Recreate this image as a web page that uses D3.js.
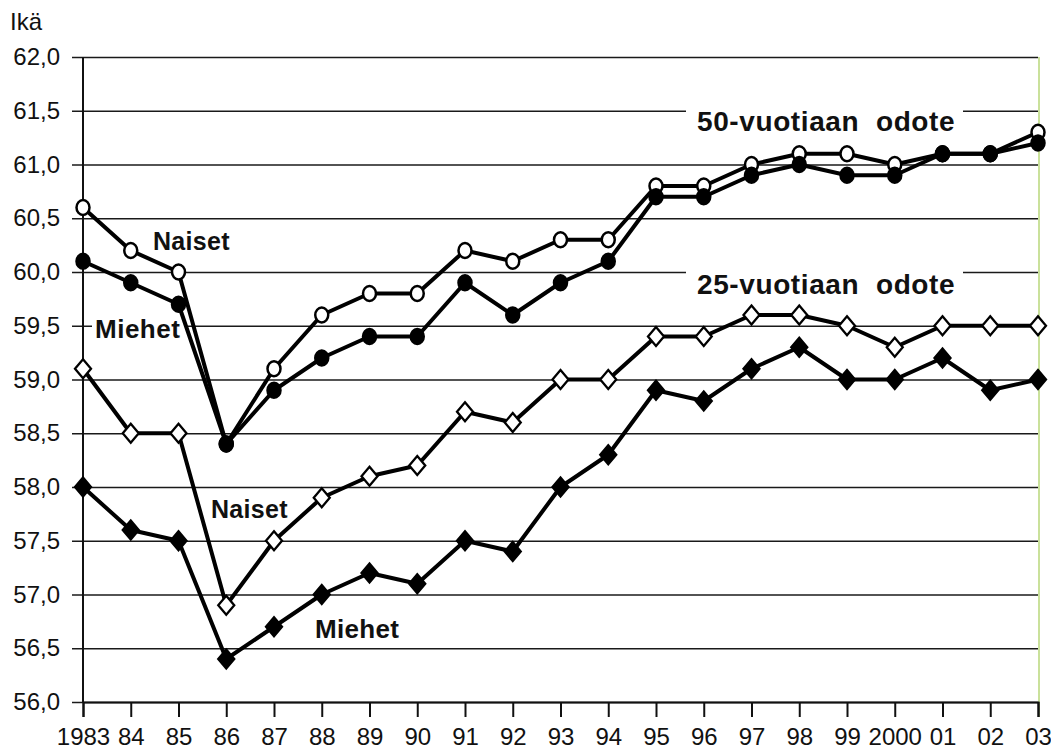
<!DOCTYPE html>
<html>
<head>
<meta charset="utf-8">
<script src="https://cdn.jsdelivr.net/npm/d3@7"></script>
<style>
  body { margin: 0; background: #fff; }
  text { font-family: "Liberation Sans", Arial, sans-serif; fill: #111; }
  .axis text { font-size: 24px; }
  .lbl { font-weight: bold; }
</style>
</head>
<body>
<div id="chart"></div>
<script>
const years = [1983, 1984, 1985, 1986, 1987, 1988, 1989, 1990, 1991, 1992, 1993,
    1994, 1995, 1996, 1997, 1998, 1999, 2000, 2001, 2002, 2003]
const naiset50 = [60.6, 60.2, 60.0, 58.4, 59.1, 59.6, 59.8, 59.8, 60.2, 60.1, 60.3,
    60.3, 60.8, 60.8, 61.0, 61.1, 61.1, 61.0, 61.1, 61.1, 61.3]
const miehet50 = [60.1, 59.9, 59.7, 58.4, 58.9, 59.2, 59.4, 59.4, 59.9, 59.6, 59.9,
    60.1, 60.7, 60.7, 60.9, 61.0, 60.9, 60.9, 61.1, 61.1, 61.2]
const naiset25 = [59.1, 58.5, 58.5, 56.9, 57.5, 57.9, 58.1, 58.2, 58.7, 58.6, 59.0,
    59.0, 59.4, 59.4, 59.6, 59.6, 59.5, 59.3, 59.5, 59.5, 59.5]
const miehet25 = [58.0, 57.6, 57.5, 56.4, 56.7, 57.0, 57.2, 57.1, 57.5, 57.4, 58.0,
    58.3, 58.9, 58.8, 59.1, 59.3, 59.0, 59.0, 59.2, 58.9, 59.0]
const yTicks = [56.0, 56.5, 57.0, 57.5, 58.0, 58.5, 59.0, 59.5, 60.0, 60.5, 61.0, 61.5, 62.0]
const xTickLabels = ['1983', '84', '85', '86', '87', '88', '89', '90', '91', '92', '93',
    '94', '95', '96', '97', '98', '99', '2000', '01', '02', '03']

const W = 1051, H = 752
const plotL = 83, plotR = 1038, plotT = 57, plotB = 702

const svg = d3.select('#chart')
    .append('svg')
    .attr('width', W)
    .attr('height', H)

const xScale = d3.scaleLinear().domain([1983, 2003]).range([plotL, plotR])
const yScale = d3.scaleLinear().domain([56, 62]).range([plotB, plotT])

//gridlines (start a bit left of the axis, like tick marks)
svg.append('g')
    .attr('transform', 'translate(' + (plotL - 11) + ',0)')
    .call(d3.axisRight(yScale).tickValues(yTicks).tickSize(plotR - plotL + 11).tickFormat(''))
    .call(g => g.select('.domain').remove())
    .call(g => g.selectAll('line').attr('stroke', '#1a1a1a').attr('stroke-width', 1.6))

//white patches behind labels that cut the gridlines
const patches = [[686, 106, 277, 34], [686, 266, 277, 36], [92, 314, 96, 28]]
svg.selectAll('.patch')
    .data(patches)
    .enter()
    .append('rect')
    .attr('x', d => d[0]).attr('y', d => d[1])
    .attr('width', d => d[2]).attr('height', d => d[3])
    .attr('fill', '#fff')

//y labels
svg.append('g')
    .attr('class', 'axis')
    .attr('transform', 'translate(' + (plotL - 11) + ',0)')
    .call(d3.axisLeft(yScale).tickValues(yTicks).tickSize(0).tickPadding(12)
        .tickFormat(d => d3.format('.1f')(d).replace('.', ',')))
    .call(g => g.select('.domain').remove())
    .call(g => g.selectAll('text').attr('fill', '#111'))

//y axis line
svg.append('line')
    .attr('x1', plotL).attr('x2', plotL)
    .attr('y1', plotT).attr('y2', plotB)
    .attr('stroke', '#111').attr('stroke-width', 2)

//right edge (scan colour line)
svg.append('line')
    .attr('x1', plotR + 1).attr('x2', plotR + 1)
    .attr('y1', plotT).attr('y2', plotB + 15)
    .attr('stroke', '#b9d77a').attr('stroke-width', 1.5)

//x axis
svg.append('g')
    .attr('class', 'axis')
    .attr('transform', 'translate(0,' + plotB + ')')
    .call(d3.axisBottom(xScale).tickValues(years).tickSize(15).tickPadding(11)
        .tickFormat((d, i) => xTickLabels[i]))
    .call(g => g.select('.domain').attr('stroke', '#111').attr('stroke-width', 2))
    .call(g => g.selectAll('line').attr('stroke', '#111').attr('stroke-width', 2))
    .call(g => g.selectAll('text').attr('fill', '#111'))

const series = [
    { values: naiset50, shape: 'circle', fill: '#fff' },
    { values: miehet50, shape: 'circle', fill: '#000' },
    { values: naiset25, shape: 'diamond', fill: '#fff' },
    { values: miehet25, shape: 'diamond', fill: '#000' }
]

const line = d3.line()
    .x((d, i) => xScale(years[i]))
    .y(d => yScale(d))

series.forEach(s => {
    svg.append('path')
        .datum(s.values)
        .attr('fill', 'none')
        .attr('stroke', '#000')
        .attr('stroke-width', 4)
        .attr('stroke-linejoin', 'round')
        .attr('d', line)
})

series.forEach(s => {
    const g = svg.append('g')
    if (s.shape === 'circle') {
        g.selectAll('ellipse')
            .data(s.values)
            .enter()
            .append('ellipse')
            .attr('cx', (d, i) => xScale(years[i]))
            .attr('cy', d => yScale(d))
            .attr('rx', 6.5)
            .attr('ry', 7.5)
            .attr('fill', s.fill)
            .attr('stroke', '#000')
            .attr('stroke-width', 2.5)
    } else {
        g.selectAll('path')
            .data(s.values)
            .enter()
            .append('path')
            .attr('transform', (d, i) => 'translate(' + xScale(years[i]) + ',' + yScale(d) + ')')
            .attr('d', 'M0,-9.5L8,0L0,9.5L-8,0Z')
            .attr('fill', s.fill)
            .attr('stroke', '#000')
            .attr('stroke-width', 2.3)
    }
})

//texts
svg.append('text')
    .attr('x', 10).attr('y', 30)
    .style('font-size', '24px')
    .text('Ikä')

const labels = [
    ['50-vuotiaan\u00a0 odote', 697, 131, 28, 0.6],
    ['25-vuotiaan\u00a0 odote', 697, 294, 28, 0.6],
    ['Naiset', 153, 250, 25, 0.3],
    ['Miehet', 95, 338, 26, 0.5],
    ['Naiset', 211, 518, 25, 0.3],
    ['Miehet', 315, 638, 26, 0.3]
]
svg.selectAll('.lbl')
    .data(labels)
    .enter()
    .append('text')
    .attr('class', 'lbl')
    .attr('x', d => d[1]).attr('y', d => d[2])
    .style('font-size', d => d[3] + 'px')
    .style('letter-spacing', d => d[4] + 'px')
    .text(d => d[0])
</script>
</body>
</html>
